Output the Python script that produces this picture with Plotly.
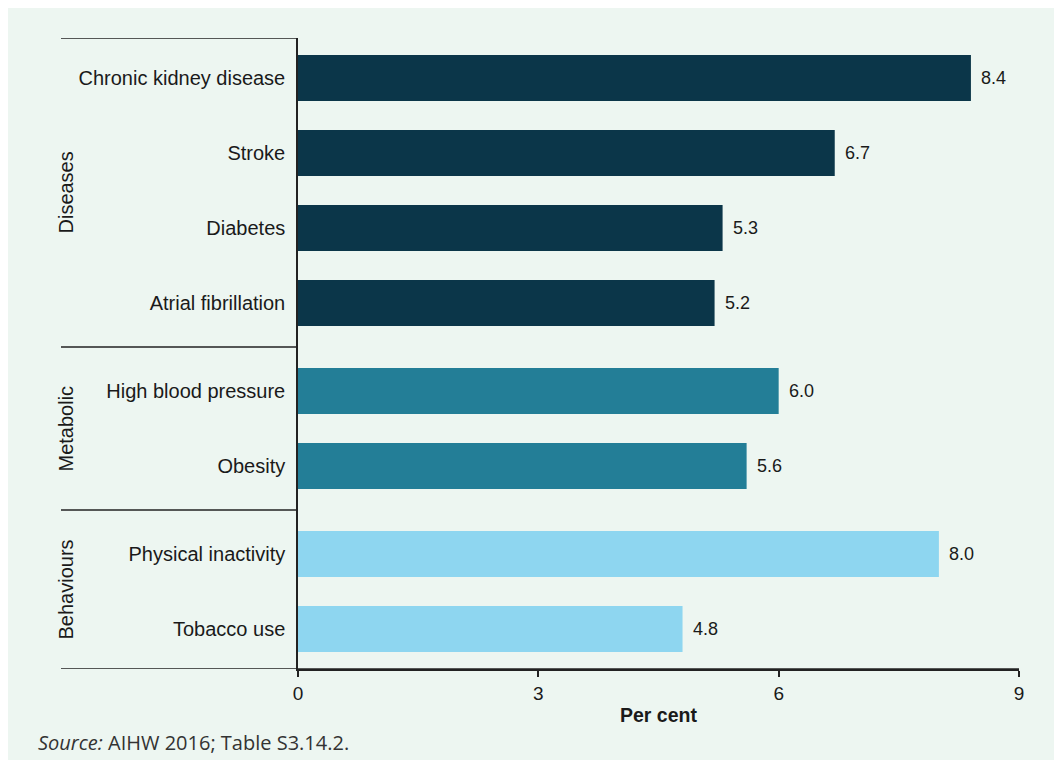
import plotly.graph_objects as go

categories = ["Chronic kidney disease", "Stroke", "Diabetes", "Atrial fibrillation",
              "High blood pressure", "Obesity",
              "Physical inactivity", "Tobacco use"]
values = [8.4, 6.7, 5.3, 5.2, 6.0, 5.6, 8.0, 4.8]
groups = ["Diseases", "Diseases", "Diseases", "Diseases",
          "Metabolic", "Metabolic",
          "Behaviours", "Behaviours"]
group_names = ["Diseases", "Metabolic", "Behaviours"]
group_colors = {"Diseases": "#0b3649", "Metabolic": "#237e97", "Behaviours": "#8ed6f0"}
x_ticks = [0, 3, 6, 9]

FONT = "Liberation Sans, Arial"
TXT = "#1a1a1a"

# layout: positions with extra gap between groups
GAP = 0.173
pos = []
p = 0.0
for i, g in enumerate(groups):
    if i > 0:
        p += 1.0 + (GAP if g != groups[i - 1] else 0.0)
    pos.append(p)

y_top = pos[0] - 0.533
y_bot = pos[-1] + 0.533

PLOT_W, PLOT_H = 721, 631

fig = go.Figure()
fig.add_trace(go.Bar(
    x=values, y=pos, orientation="h", width=0.613,
    marker=dict(color=[group_colors[g] for g in groups], line=dict(width=0)),
    showlegend=False, hoverinfo="x+y",
))

shapes = []
left_paper = -237 / PLOT_W
bounds = [y_top]
for i in range(1, len(groups)):
    if groups[i] != groups[i - 1]:
        bounds.append((pos[i] + pos[i - 1]) / 2)
for b in bounds:
    shapes.append(dict(type="line", xref="paper", yref="y", x0=left_paper, x1=0,
                       y0=b, y1=b, line=dict(color="#222222", width=1.5)))
shapes.append(dict(type="line", xref="paper", yref="y", x0=left_paper, x1=1,
                   y0=y_bot, y1=y_bot, line=dict(color="#222222", width=1.5)))

annotations = []
# value labels
for v, yp in zip(values, pos):
    annotations.append(dict(x=v, y=yp, xref="x", yref="y", text=f"{v:.1f}", showarrow=False,
                            xanchor="left", yanchor="middle", xshift=8,
                            font=dict(family=FONT, size=18, color=TXT)))
bounds_all = bounds + [y_bot]
for k, g in enumerate(group_names):
    annotations.append(dict(x=-232 / PLOT_W, xref="paper", y=(bounds_all[k] + bounds_all[k + 1]) / 2,
                            yref="y", text=g, textangle=-90, showarrow=False,
                            font=dict(family=FONT, size=20, color=TXT),
                            xanchor="center", yanchor="middle"))
annotations.append(dict(x=-262 / PLOT_W, xref="paper", y=-73 / PLOT_H, yref="paper",
                        text="<i>Source:</i> AIHW 2016; Table S3.14.2.", showarrow=False,
                        xanchor="left", yanchor="middle",
                        font=dict(family="Open Sans", size=20, color="#333333")))

fig.update_layout(
    width=1054, height=752,
    margin=dict(l=290, r=43, t=30, b=91, pad=0),
    paper_bgcolor="#edf6f1", plot_bgcolor="#edf6f1",
    shapes=shapes, annotations=annotations,
    xaxis=dict(range=[0, 9], tickvals=x_ticks, ticktext=[str(t) for t in x_ticks],
               showgrid=False, zeroline=False, showline=True, linecolor="#222222", linewidth=1.5,
               ticks="outside", ticklen=6, tickcolor="#222222", tickwidth=1.5,
               tickfont=dict(family=FONT, size=19, color=TXT),
               title=dict(text="<b>Per cent</b>", standoff=6,
                          font=dict(family=FONT, size=19.5, color=TXT))),
    yaxis=dict(range=[y_bot, y_top], tickvals=pos, ticktext=categories,
               showgrid=False, zeroline=False, showline=True, linecolor="#222222", linewidth=1.5,
               ticks="", ticklabelstandoff=7,
               tickfont=dict(family=FONT, size=20, color=TXT)),
)

fig.write_html("out.html")
